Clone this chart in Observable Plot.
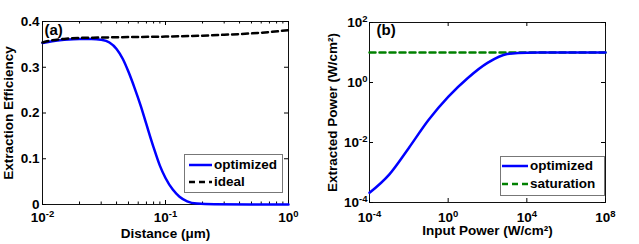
<!DOCTYPE html>
<html>
<head>
<meta charset="utf-8">
<script src="https://cdn.jsdelivr.net/npm/d3@7"></script>
<script src="https://cdn.jsdelivr.net/npm/@observablehq/plot@0.6"></script>
<style>
  html, body { margin: 0; padding: 0; background: #fff; }
  #wrap { position: relative; width: 639px; height: 244px; overflow: hidden; font-family: "Liberation Sans", Arial, sans-serif; font-weight: bold; }
  .panel { position: absolute; top: 0; }
  .legend { position: absolute; background: #fff; border: 1px solid #777; box-sizing: border-box; font-size: 13.5px; }
  .legend .row { position: absolute; left: 0; display: flex; align-items: center; white-space: nowrap; }
  .legend svg { display: block; }
</style>
</head>
<body>
<div id="wrap"></div>
<script>
// ---------- data: panel (a) ----------
const distance     = [0.01, 0.012, 0.015, 0.02, 0.025, 0.03, 0.035, 0.04, 0.045, 0.05, 0.056, 0.063, 0.07, 0.08, 0.09, 0.1, 0.115, 0.13, 0.15, 0.18, 0.25, 0.5, 1];
const optimizedEff = [0.353, 0.357, 0.360, 0.362, 0.362, 0.360, 0.354, 0.340, 0.318, 0.290, 0.255, 0.215, 0.175, 0.125, 0.085, 0.058, 0.032, 0.017, 0.007, 0.002, 0.0003, 0, 0];
const idealDistance = [0.01, 0.012, 0.015, 0.02, 0.03, 0.05, 0.1, 0.2, 0.3, 0.5, 0.7, 1];
const idealEff      = [0.354, 0.359, 0.362, 0.364, 0.365, 0.366, 0.367, 0.369, 0.371, 0.374, 0.377, 0.381];
const xTicksA = [0.01, 0.1, 1];
const xMinorA = [0.02, 0.03, 0.04, 0.05, 0.06, 0.07, 0.08, 0.09, 0.2, 0.3, 0.4, 0.5, 0.6, 0.7, 0.8, 0.9];
const yTicksA = [0, 0.1, 0.2, 0.3, 0.4];

// ---------- data: panel (b) ----------
const inputPower      = [1e-4, 1e-3, 1e-2, 1e-1, 1, 10, 100, 1e3, 1e4, 1e5, 1e8];
const extractedPower  = [2.1e-4, 8.5e-4, 6.6e-3, 5.6e-2, 0.33, 1.41, 4.5, 8.9, 9.9, 10, 10];
const saturationPower = [10, 10, 10, 10, 10, 10, 10, 10, 10, 10, 10];
const xTicksB = [1e-4, 1, 1e4, 1e8];
const yTicksB = [1e-4, 1e-2, 1, 1e2];

const legendA = [{label: "optimized", color: "#0000ff", dash: null}, {label: "ideal", color: "#000000", dash: "6,4"}];
const legendB = [{label: "optimized", color: "#0000ff", dash: null}, {label: "saturation", color: "#008000", dash: "6,4"}];

const H = 244;
const FS = 13.5;
const baseStyle = {fontFamily: "'Liberation Sans', Arial, sans-serif", fontSize: FS + "px", fontWeight: "bold", background: "transparent", overflow: "visible"};
const powFmt = d => "10^" + Math.round(Math.log10(d));

function ticksMarks(xs, xminor, ys, innerW, innerH, major, minor) {
  const m = [
    Plot.tickX(xs, {x: d => d, insetTop: innerH - major, stroke: "#000"}),
    Plot.tickX(xs, {x: d => d, insetBottom: innerH - major, stroke: "#000"}),
    Plot.tickY(ys, {y: d => d, insetRight: innerW - major, stroke: "#000"}),
    Plot.tickY(ys, {y: d => d, insetLeft: innerW - major, stroke: "#000"})
  ];
  if (xminor) {
    m.push(Plot.tickX(xminor, {x: d => d, insetTop: innerH - minor, stroke: "#000"}));
    m.push(Plot.tickX(xminor, {x: d => d, insetBottom: innerH - minor, stroke: "#000"}));
  }
  return m;
}

function supify(svg) {
  d3.select(svg).selectAll('g[aria-label$="tick label"] text').each(function () {
    const t = this.textContent;
    const m = t.match(/^10\^(.+)$/);
    if (!m) return;
    const sel = d3.select(this);
    sel.text(null);
    sel.append("tspan").text("10");
    sel.append("tspan").attr("dy", "-0.5em").style("font-size", "9.5px").text(m[1]);
  });
}

function legendBox(items, box) {
  const div = document.createElement("div");
  div.className = "legend";
  Object.assign(div.style, {left: box.left + "px", top: box.top + "px", width: box.width + "px", height: box.height + "px"});
  items.forEach((it, i) => {
    const row = document.createElement("div");
    row.className = "row";
    row.style.top = (box.rows[i] - box.top - 1 - 9) + "px";
    row.style.height = "18px";
    row.style.left = (box.lineX - box.left - 1) + "px";
    const ns = "http://www.w3.org/2000/svg";
    const s = document.createElementNS(ns, "svg");
    s.setAttribute("width", box.lineW);
    s.setAttribute("height", 18);
    const ln = document.createElementNS(ns, "line");
    ln.setAttribute("x1", 0); ln.setAttribute("x2", box.lineW);
    ln.setAttribute("y1", 9); ln.setAttribute("y2", 9);
    ln.setAttribute("stroke", it.color);
    ln.setAttribute("stroke-width", 2.5);
    if (it.dash) ln.setAttribute("stroke-dasharray", it.dash);
    s.appendChild(ln);
    row.appendChild(s);
    const sp = document.createElement("span");
    sp.textContent = it.label;
    sp.style.marginLeft = box.gap + "px";
    sp.style.lineHeight = "18px";
    row.appendChild(sp);
    div.appendChild(row);
  });
  return div;
}

const wrap = document.getElementById("wrap");

// ---------- panel (a) ----------
{
  const W = 320, mL = 42, mR = 32, mT = 21, mB = 40;
  const iW = W - mL - mR, iH = H - mT - mB;
  const dataOpt = distance.map((d, i) => ({x: d, y: optimizedEff[i]}));
  const dataIdeal = idealDistance.map((d, i) => ({x: d, y: idealEff[i]}));
  const chart = Plot.plot({
    width: W, height: H, marginLeft: mL, marginRight: mR, marginTop: mT, marginBottom: mB,
    style: baseStyle,
    x: {type: "log", domain: [0.01, 1]},
    y: {domain: [0, 0.4]},
    marks: [
      Plot.frame({stroke: "#111"}),
      ...ticksMarks(xTicksA, xMinorA, yTicksA, iW, iH, 4, 2.5),
      Plot.axisX({ticks: xTicksA, tickSize: 0, tickPadding: 8, tickFormat: powFmt, label: null, fontSize: FS}),
      Plot.axisY({ticks: yTicksA, tickSize: 0, tickPadding: 3, tickFormat: d => d === 0 ? "0" : d.toFixed(1), label: null, fontSize: FS}),
      Plot.line(dataOpt, {x: "x", y: "y", stroke: "#0000ff", strokeWidth: 2.5, curve: "monotone-x"}),
      Plot.line(dataIdeal, {x: "x", y: "y", stroke: "#000", strokeWidth: 2.5, strokeDasharray: "6,4", curve: "monotone-x"}),
      Plot.text(["(a)"], {text: d => d, frameAnchor: "top-left", dx: 2, dy: 3, textAnchor: "start", lineAnchor: "top", fontSize: 15}),
      Plot.text(["Distance (μm)"], {text: d => d, frameAnchor: "bottom", dy: 29, textAnchor: "middle", lineAnchor: "middle", fontSize: FS}),
      Plot.text(["Extraction Efficiency"], {text: d => d, frameAnchor: "left", dx: -33.5, rotate: -90, textAnchor: "middle", lineAnchor: "middle", fontSize: FS})
    ]
  });
  chart.classList.add("panel");
  chart.style.left = "0px";
  supify(chart);
  wrap.appendChild(chart);
  wrap.appendChild(legendBox(legendA, {left: 184, top: 154, width: 99, height: 39, rows: [164.5, 182], lineX: 189, lineW: 23, gap: 2}));
}

// ---------- panel (b) ----------
{
  const W = 319, mL = 49, mR = 34, mT = 22, mB = 42;
  const iW = W - mL - mR, iH = H - mT - mB;
  const dataOpt = inputPower.map((d, i) => ({x: d, y: extractedPower[i]}));
  const dataSat = inputPower.map((d, i) => ({x: d, y: saturationPower[i]}));
  const chart = Plot.plot({
    width: W, height: H, marginLeft: mL, marginRight: mR, marginTop: mT, marginBottom: mB,
    style: baseStyle,
    x: {type: "log", domain: [1e-4, 1e8]},
    y: {type: "log", domain: [1e-4, 1e2]},
    marks: [
      Plot.frame({stroke: "#111"}),
      ...ticksMarks(xTicksB, null, yTicksB, iW, iH, 4, 2.5),
      Plot.axisX({ticks: xTicksB, tickSize: 0, tickPadding: 10, tickFormat: powFmt, label: null, fontSize: FS}),
      Plot.axisY({ticks: yTicksB, tickSize: 0, tickPadding: 2, tickFormat: powFmt, label: null, fontSize: FS}),
      Plot.line(dataSat, {x: "x", y: "y", stroke: "#008000", strokeWidth: 2.5, strokeDasharray: "6,4"}),
      Plot.line(dataOpt, {x: "x", y: "y", stroke: "#0000ff", strokeWidth: 2.5, curve: "monotone-x"}),
      Plot.text(["(b)"], {text: d => d, frameAnchor: "top-left", dx: 7, dy: 2, textAnchor: "start", lineAnchor: "top", fontSize: 15}),
      Plot.text(["Input Power (W/cm²)"], {text: d => d, frameAnchor: "bottom", dy: 28, textAnchor: "middle", lineAnchor: "middle", fontSize: FS}),
      Plot.text(["Extracted Power (W/cm²)"], {text: d => d, frameAnchor: "left", dx: -37.3, rotate: -90, textAnchor: "middle", lineAnchor: "middle", fontSize: FS})
    ]
  });
  chart.classList.add("panel");
  chart.style.left = "320px";
  supify(chart);
  wrap.appendChild(chart);
  wrap.appendChild(legendBox(legendB, {left: 500, top: 156, width: 105, height: 40, rows: [166, 183.5], lineX: 502, lineW: 26, gap: 2}));
}
</script>
</body>
</html>
